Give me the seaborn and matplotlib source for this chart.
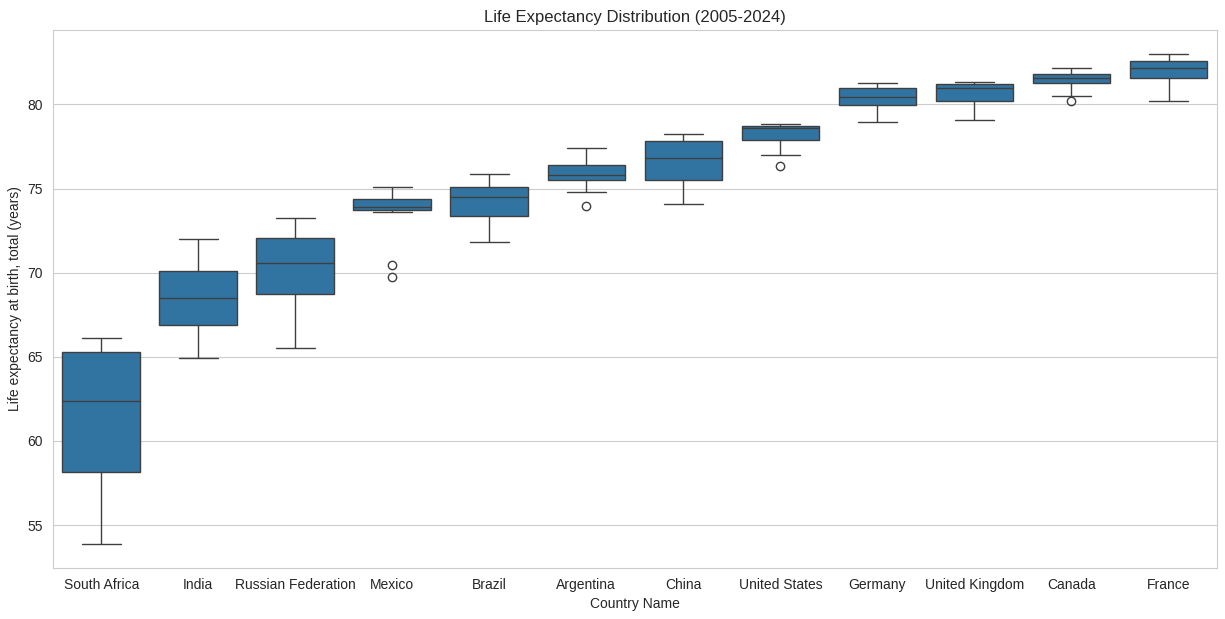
import pandas as pd
import matplotlib
matplotlib.use('Agg')
import matplotlib.pyplot as plt
import seaborn as sns

# Yillar 2005-2024, her ulke icin 20 deger
years = list(range(2005, 2025))

countries = ['South Africa', 'India', 'Russian Federation', 'Mexico', 'Brazil',
             'Argentina', 'China', 'United States', 'Germany', 'United Kingdom',
             'Canada', 'France']

south_africa = [53.9, 55.2, 56.4, 57.5, 58.17, 58.17, 59.6, 60.8, 61.7, 62.38,
                62.38, 63.3, 64.2, 64.9, 65.29, 65.29, 65.5, 65.7, 65.9, 66.12]
india = [64.94, 65.5, 66.0, 66.5, 66.9, 66.9, 67.4, 67.8, 68.2, 68.5,
         68.5, 68.9, 69.3, 69.7, 70.1, 70.1, 70.6, 71.1, 71.6, 72.0]
russia = [65.53, 66.5, 67.4, 68.1, 68.73, 68.73, 69.3, 69.8, 70.2, 70.57,
          70.57, 71.0, 71.4, 71.8, 72.05, 72.05, 72.4, 72.7, 73.0, 73.24]
mexico = [69.74, 70.45, 73.59, 73.65, 73.71, 73.71, 73.78, 73.83, 73.87, 73.89,
          73.89, 74.0, 74.12, 74.25, 74.37, 74.37, 74.55, 74.75, 74.92, 75.08]
brazil = [71.81, 72.4, 72.8, 73.1, 73.36, 73.36, 73.7, 74.0, 74.3, 74.48,
          74.48, 74.7, 74.85, 74.98, 75.08, 75.08, 75.3, 75.5, 75.7, 75.85]
argentina = [73.95, 74.78, 75.1, 75.3, 75.49, 75.49, 75.58, 75.66, 75.73, 75.79,
             75.79, 75.95, 76.1, 76.25, 76.38, 76.38, 76.65, 76.9, 77.15, 77.39]
china = [74.07, 74.5, 74.9, 75.2, 75.49, 75.49, 75.9, 76.3, 76.6, 76.80,
         76.80, 77.1, 77.4, 77.6, 77.81, 77.81, 77.95, 78.05, 78.15, 78.22]
united_states = [76.32, 76.98, 77.3, 77.6, 77.86, 77.86, 78.1, 78.3, 78.45, 78.58,
                 78.58, 78.62, 78.65, 78.68, 78.70, 78.70, 78.74, 78.77, 78.79, 78.81]
germany = [78.93, 79.3, 79.6, 79.8, 79.94, 79.94, 80.1, 80.25, 80.38, 80.47,
           80.47, 80.6, 80.75, 80.88, 80.95, 80.95, 81.05, 81.15, 81.22, 81.30]
united_kingdom = [79.05, 79.5, 79.8, 80.0, 80.18, 80.18, 80.45, 80.7, 80.85, 80.95,
                  80.95, 81.02, 81.08, 81.14, 81.19, 81.19, 81.24, 81.28, 81.32, 81.36]
canada = [80.18, 80.53, 80.85, 81.1, 81.25, 81.25, 81.38, 81.48, 81.55, 81.60,
          81.60, 81.66, 81.71, 81.75, 81.78, 81.78, 81.9, 82.02, 82.12, 82.19]
france = [80.18, 80.7, 81.1, 81.4, 81.60, 81.60, 81.8, 81.95, 82.1, 82.19,
          82.19, 82.3, 82.42, 82.52, 82.61, 82.61, 82.7, 82.8, 82.9, 82.97]

values = [south_africa, india, russia, mexico, brazil, argentina, china,
          united_states, germany, united_kingdom, canada, france]

rows = []
for name, vals in zip(countries, values):
    for yr, v in zip(years, vals):
        rows.append({'Country Name': name, 'Year': yr,
                     'Life expectancy at birth, total (years)': v})
data = pd.DataFrame(rows)

sns.set_style('whitegrid')
plt.rcParams['font.family'] = ['Liberation Sans', 'DejaVu Sans']

fig = plt.figure(figsize=(12.25, 6.19), dpi=100)
ax = sns.boxplot(x='Country Name', y='Life expectancy at birth, total (years)',
                 data=data, order=countries)
plt.title('Life Expectancy Distribution (2005-2024)')
plt.subplots_adjust(left=0.043, right=0.9935, top=0.9515, bottom=0.0824)
plt.savefig('out.png', dpi=100)
